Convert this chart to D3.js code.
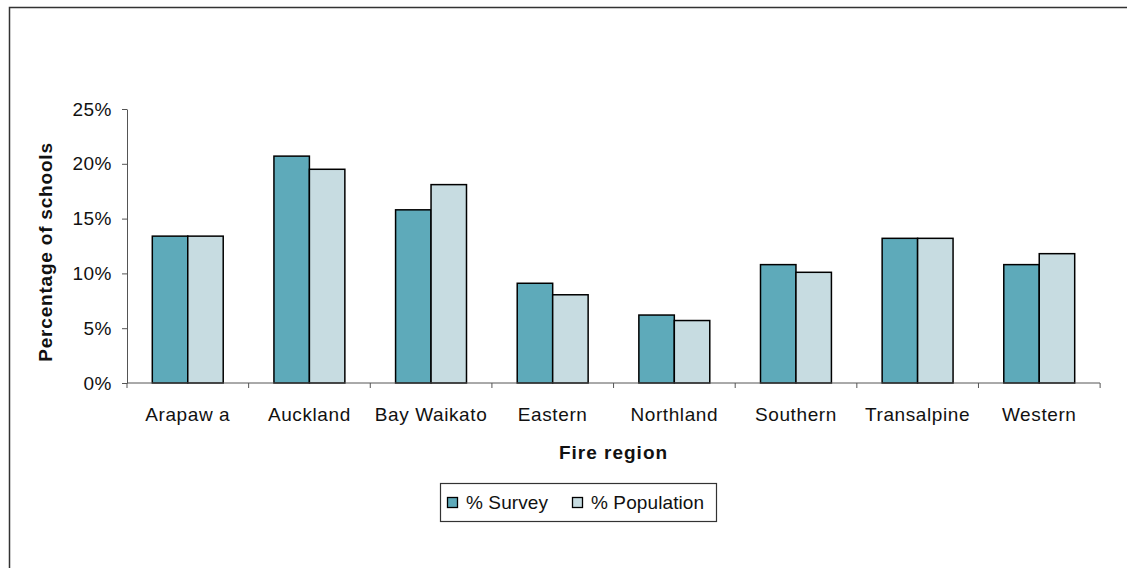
<!DOCTYPE html>
<html>
<head>
<meta charset="utf-8">
<script src="https://cdn.jsdelivr.net/npm/d3@7"></script>
<style>
  body { margin: 0; background: #fff; }
  svg { display: block; font-family: "Liberation Sans", Arial, sans-serif; }
</style>
</head>
<body>
<div id="chart"></div>
<script>
// data
var regions = ["Arapaw a", "Auckland", "Bay Waikato", "Eastern", "Northland", "Southern", "Transalpine", "Western"];
var surveyPct = [13.4, 20.7, 15.8, 9.1, 6.2, 10.8, 13.2, 10.8];
var populationPct = [13.4, 19.5, 18.1, 8.05, 5.7, 10.1, 13.2, 11.8];
var seriesNames = ["% Survey", "% Population"];
var yTicks = [0, 5, 10, 15, 20, 25];

var colors = { "% Survey": "#5eaaba", "% Population": "#c7dce1" };

var width = 1127, height = 568;
var margin = { left: 127, right: 27, top: 109, bottom: 185 };

var svg = d3.select("#chart").append("svg")
  .attr("width", width)
  .attr("height", height);

// outer chart frame (runs off right and bottom)
svg.append("rect")
  .attr("x", 9.5).attr("y", 7.5)
  .attr("width", width + 20).attr("height", height + 20)
  .attr("fill", "none")
  .attr("stroke", "#333")
  .attr("stroke-width", 1.5);

var x = d3.scaleBand()
  .domain(regions)
  .range([margin.left, width - margin.right])
  .paddingInner(0.417)
  .paddingOuter(0.208);

var x1 = d3.scaleBand()
  .domain(seriesNames)
  .range([0, x.bandwidth()]);

var y = d3.scaleLinear()
  .domain([0, 25])
  .range([height - margin.bottom, margin.top]);

var rows = regions.map(function(r, i) {
  return { region: r, values: [
    { key: "% Survey", value: surveyPct[i] },
    { key: "% Population", value: populationPct[i] }
  ]};
});

// bars
svg.append("g")
  .selectAll("g")
  .data(rows)
  .enter().append("g")
    .attr("transform", function(d) { return "translate(" + x(d.region) + ",0)"; })
  .selectAll("rect")
  .data(function(d) { return d.values; })
  .enter().append("rect")
    .attr("x", function(d) { return x1(d.key); })
    .attr("y", function(d) { return y(d.value); })
    .attr("width", x1.bandwidth())
    .attr("height", function(d) { return y(0) - y(d.value); })
    .attr("fill", function(d) { return colors[d.key]; })
    .attr("stroke", "#000")
    .attr("stroke-width", 1.5);

// y axis
var yAxis = svg.append("g")
  .attr("transform", "translate(" + margin.left + ",0)")
  .call(d3.axisLeft(y).tickValues(yTicks).tickFormat(function(d) { return d + "%"; }).tickSize(5).tickSizeOuter(0).tickPadding(10));
yAxis.select(".domain").attr("stroke", "#555");
yAxis.selectAll(".tick line").attr("stroke", "#555");
yAxis.selectAll("text")
  .attr("font-size", 19)
  .attr("letter-spacing", 0.5)
  .attr("fill", "#111")
  .attr("font-family", "Liberation Sans, Arial, sans-serif");

// x axis: ticks between categories
var xAxisG = svg.append("g");
xAxisG.append("line")
  .attr("x1", margin.left).attr("x2", width - margin.right)
  .attr("y1", y(0)).attr("y2", y(0))
  .attr("stroke", "#555");
var step = x.step();
var boundaries = d3.range(regions.length + 1).map(function(i) { return margin.left + i * step; });
xAxisG.selectAll(".xtick")
  .data(boundaries)
  .enter().append("line")
    .attr("class", "xtick")
    .attr("x1", function(d) { return d; })
    .attr("x2", function(d) { return d; })
    .attr("y1", y(0))
    .attr("y2", y(0) + 5)
    .attr("stroke", "#555");
xAxisG.selectAll(".xlabel")
  .data(regions)
  .enter().append("text")
    .attr("class", "xlabel")
    .attr("x", function(d) { return x(d) + x.bandwidth() / 2; })
    .attr("y", y(0) + 38)
    .attr("text-anchor", "middle")
    .attr("font-size", 19)
    .attr("letter-spacing", 0.6)
    .attr("fill", "#111")
    .text(function(d) { return d; });

// axis titles
svg.append("text")
  .attr("transform", "translate(52," + ((y(0) + y(25)) / 2 + 6) + ") rotate(-90)")
  .attr("text-anchor", "middle")
  .attr("font-size", 19)
  .attr("font-weight", "bold")
  .attr("letter-spacing", 0.8)
  .attr("fill", "#111")
  .text("Percentage of schools");

svg.append("text")
  .attr("x", (margin.left + width - margin.right) / 2)
  .attr("y", 459)
  .attr("text-anchor", "middle")
  .attr("font-size", 19)
  .attr("font-weight", "bold")
  .attr("letter-spacing", 1)
  .attr("fill", "#111")
  .text("Fire region");

// legend
var legend = svg.append("g");
legend.append("rect")
  .attr("x", 440.5).attr("y", 483.5)
  .attr("width", 276).attr("height", 38)
  .attr("fill", "#fff")
  .attr("stroke", "#333")
  .attr("stroke-width", 1.2);
var legendX = [447, 572];
seriesNames.forEach(function(name, i) {
  legend.append("rect")
    .attr("x", legendX[i] + 0.5).attr("y", 497.5)
    .attr("width", 10).attr("height", 10)
    .attr("fill", colors[name])
    .attr("stroke", "#000")
    .attr("stroke-width", 1.3);
  legend.append("text")
    .attr("x", legendX[i] + 19)
    .attr("y", 509)
    .attr("font-size", 19)
    .attr("letter-spacing", 0.1)
    .attr("fill", "#111")
    .text(name);
});
</script>
</body>
</html>
